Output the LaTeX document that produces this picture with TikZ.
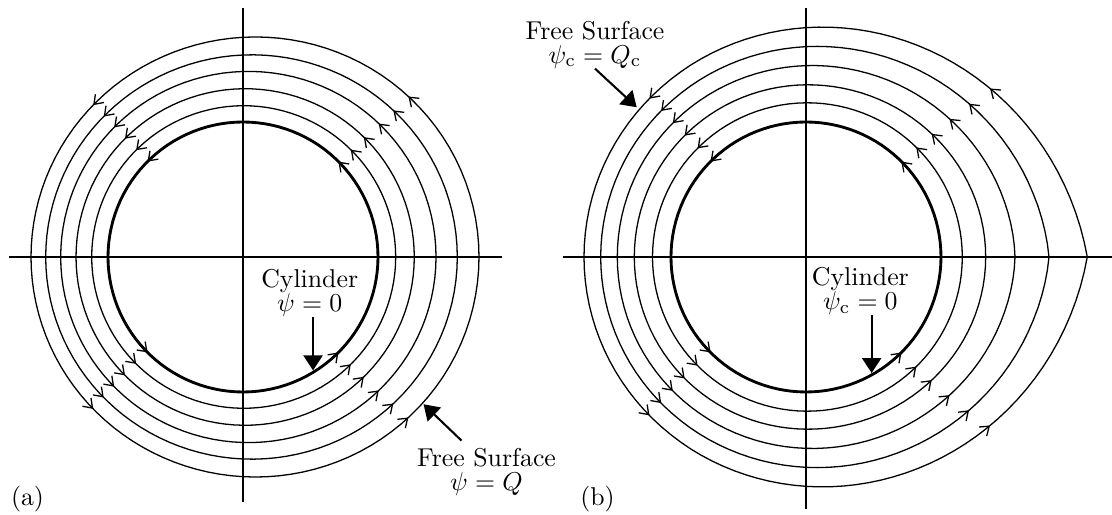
\documentclass[tikz,border=0pt]{standalone}
\usetikzlibrary{arrows.meta,decorations.markings}

\begin{document}
\begin{tikzpicture}[
    x=0.3876pt, y=0.3876pt,
    axis/.style={line width=0.5pt},
    stream/.style={line width=0.5pt, line cap=round, postaction={decorate},
      decoration={markings, mark=at position 0.5 with
        {\arrow{Straight Barb[length=3.2pt,width=4.6pt,line width=0.5pt]}}}},
    body/.style={stream, line width=1.1pt},
    lbl/.style={align=center, inner sep=0pt},
    callout/.style={line width=0.8pt, -{Triangle[length=5.8pt,width=7.4pt]}},
    declare function={
      rcirc(\t,\ca,\cb,\cc)=\ca+\cb*cos(\t)+\cc*cos(2*\t);
      rcrit(\t,\sL,\sR,\sP,\sM)=\sL+(\sR-\sL)*(1-(0.0001+0.9998*abs(sin(\t/2)))^\sP)^\sM;
    }
]
\useasboundingbox (0,0) rectangle (1112,515);
\coordinate (oA) at (243,258);
\coordinate (oB) at (806,258);

% (a) subcritical
\begin{scope}[shift={(oA)}]
\draw[axis] (-234,0) -- (258.7,0);
\draw[axis] (0,248.7) -- (0,-244.7);
\foreach \q/\e in {0/90,90/180,180/270,270/360} {
  \draw[body] plot[domain=\q:\e, samples=30] (\x:135);
  \foreach \ca/\cb/\cc in {151.65/0.7/0.35, 168.7/2.15/0.43, 186.6/5.35/1.07,
                           203.9/8.5/1.9, 221.85/12/2.15}
    \draw[stream] plot[domain=\q:\e, samples=30] (\x:{rcirc(\x,\ca,\cb,\cc)});
}
\node[lbl] (cylA) at (66.7,-35.9) {Cylinder\\[-2.7pt]$\psi=0$};
\coordinate (tipA) at (-58.3:133.3);
\draw[callout] (cylA.south -| tipA) -- (tipA);
\node[lbl] (fsA) at (243.5,-214.7) {Free Surface\\[-2.7pt]$\psi=Q$};
\coordinate (edgeA) at (-39.2:233);
\draw[callout] ([shift={(-25,7)}]fsA.north) -- (edgeA);
\node (tagA) at (-215.5,-242) {(a)};
\end{scope}

% (b) critical
\begin{scope}[shift={(oB)}]
\draw[axis] (-243,0) -- (306,0);
\draw[axis] (0,248.7) -- (0,-252);
\foreach \q/\e in {0/90,90/180,180/270,270/360} {
  \draw[body] plot[domain=\q:\e, samples=30] (\x:135);
  \foreach \sl/\sr/\sp/\sm in {153.5/156.3/2/2, 171.7/179.7/2/4, 188.7/209/1.3/2,
                               205.3/243/1.1/1.75, 222/281.3/1/1.7}
    \draw[stream] plot[domain=\q:\e, samples=30] (\x:{rcrit(\x,\sl,\sr,\sp,\sm)});
}
\node[lbl] (cylB) at (54.4,-34) {Cylinder\\[-2.7pt]$\psi_{\mathrm{c}}=0$};
\coordinate (tipB) at (-60.5:133.3);
\draw[callout] (cylB.south -| tipB) -- (tipB);
\node[lbl] (fsB) at (-211,212.5) {Free Surface\\[-2.7pt]$\psi_{\mathrm{c}}=Q_{\mathrm{c}}$};
\coordinate (edgeB) at (138.5:226);
\draw[callout] (fsB.south) -- (edgeB);
\node (tagB) at (-208.5,-242) {(b)};
\end{scope}
\end{tikzpicture}
\end{document}
